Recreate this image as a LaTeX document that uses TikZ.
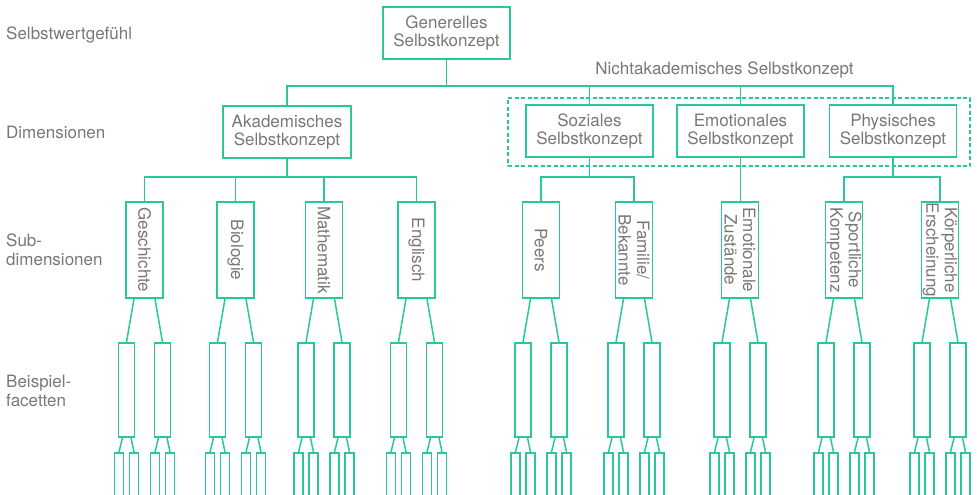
\documentclass[tikz,border=0pt]{standalone}
\usepackage{fontspec}
\setmainfont{TeX Gyre Heros}
\usetikzlibrary{calc}
\definecolor{lc}{RGB}{40,200,155}
\definecolor{tc}{RGB}{123,119,116}
\begin{document}
\begin{tikzpicture}[x=1pt,y=-1pt,
  lbl/.style={text=tc,font=\fontsize{17}{18.5}\selectfont,inner sep=0pt},
  dimbox/.style={draw=lc,line width=1.5pt,text=tc,font=\fontsize{17}{18.5}\selectfont,align=center,minimum width=127pt,minimum height=52pt,inner sep=0pt},
  subbox/.style={draw=lc,line width=1.5pt,minimum width=37pt,minimum height=96pt,inner sep=0pt},
  facbox/.style={draw=lc,line width=1.5pt,minimum width=16pt,minimum height=94pt,inner sep=0pt},
  smallbox/.style={draw=lc,line width=1.5pt,minimum width=9pt,minimum height=60pt,inner sep=0pt,anchor=north},
  conn/.style={draw=lc,line width=1.5pt},
  groupbox/.style={draw=lc,line width=1.2pt,dash pattern=on 4pt off 2.5pt,minimum width=462pt,minimum height=68pt,inner sep=0pt},
]
\useasboundingbox (0,0) rectangle (977,495);
\clip (0,0) rectangle (977,495);

% left labels
\node[lbl,anchor=base west] (l1) at (6,40) {Selbstwertgefühl};
\node[lbl,anchor=base west] (l2) at (6,138) {Dimensionen};
\node[lbl,anchor=north west,align=left] (l3) at (6,234) {Sub-\\dimensionen};
\node[lbl,anchor=north west,align=left] (l4) at (6,375) {Beispiel-\\facetten};

% dimension boxes
\node[dimbox] (gen) at (446.5,33) {Generelles\\Selbstkonzept};
\node[dimbox,minimum width=128pt] (akad) at (287,132) {Akademisches\\Selbstkonzept};
\node[groupbox] (nak) at (739,132) {};
\node[dimbox] (soz) at (589.5,131) {Soziales\\Selbstkonzept};
\node[dimbox] (emo) at (740.5,131) {Emotionales\\Selbstkonzept};
\node[dimbox] (phys) at (893,131) {Physisches\\Selbstkonzept};
\node[lbl] (naktext) at (724.5,70) {Nichtakademisches Selbstkonzept};

% top connectors
\coordinate (busT) at (0,86);
\draw[conn] (gen.south) -- (gen.south |- busT);
\draw[conn] (akad.north) -- (akad.north |- busT) -- (phys.north |- busT) -- (phys.north);
\draw[conn] (soz.north) -- (soz.north |- busT);
\draw[conn] (emo.north) -- (emo.north |- busT);

% sub-dimension boxes and facets
\foreach \n/\c in {1/144.5,2/235.5,3/324,4/416.5,5/541,6/634,7/740,8/844,9/940} {
  \node[subbox] (s\n) at (\c,250) {};
  \foreach \f/\d/\e in {a/-18/-10.5,b/18/10.5} {
    \node[facbox] (f\n\f) at ({\c+\d},390) {};
    \draw[conn] ([xshift=\e pt]s\n.south) -- (f\n\f.north);
    \node[smallbox] (t\n\f1) at ({\c+\d-7.5},452) {};
    \node[smallbox] (t\n\f2) at ({\c+\d+7.5},452) {};
    \draw[conn] ([xshift=-4pt]f\n\f.south) -- (t\n\f1.north);
    \draw[conn] ([xshift=4.5pt]f\n\f.south) -- (t\n\f2.north);
  }
}

% sub-dimension labels
\node[lbl,rotate=-90,align=center] (g1) at (s1) {Geschichte};
\node[lbl,rotate=-90,align=center] (g2) at (s2) {Biologie};
\node[lbl,rotate=-90,align=center] (g3) at (s3) {Mathematik};
\node[lbl,rotate=-90,align=center] (g4) at (s4) {Englisch};
\node[lbl,rotate=-90,align=center] (g5) at (s5) {Peers};
\node[lbl,rotate=-90,align=center] (g6) at (s6) {Familie/\\Bekannte};
\node[lbl,rotate=-90,align=center] (g7) at (s7) {Emotionale\\Zustände};
\node[lbl,rotate=-90,align=center] (g8) at (s8) {Sportliche\\Kompetenz};
\node[lbl,rotate=-90,align=center] (g9) at (s9) {Körperliche\\Erscheinung};

% sub-dimension connectors
\coordinate (busA) at (0,177);
\draw[conn] (akad.south) -- (akad.south |- busA);
\draw[conn] (s1.north) -- (s1.north |- busA) -- (s4.north |- busA) -- (s4.north);
\draw[conn] (s2.north) -- (s2.north |- busA);
\draw[conn] (s3.north) -- (s3.north |- busA);
\draw[conn] (soz.south) -- (soz.south |- busA);
\draw[conn] (s5.north) -- (s5.north |- busA) -- (s6.north |- busA) -- (s6.north);
\draw[conn] (emo.south) -- (emo.south |- s7.north);
\draw[conn] (phys.south) -- (phys.south |- busA);
\draw[conn] (s8.north) -- (s8.north |- busA) -- (s9.north |- busA) -- (s9.north);
\end{tikzpicture}
\end{document}
